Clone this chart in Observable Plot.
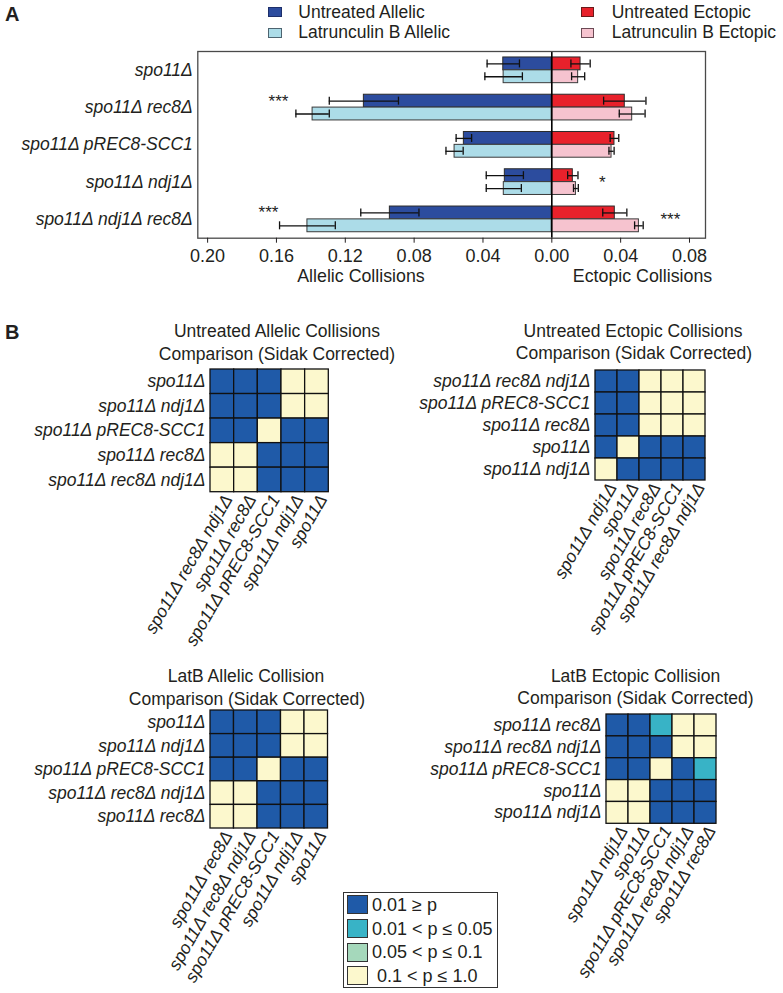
<!DOCTYPE html>
<html><head><meta charset="utf-8">
<script src="https://cdn.jsdelivr.net/npm/d3@7"></script>
<script src="https://cdn.jsdelivr.net/npm/@observablehq/plot@0.6"></script>
<style>
body{margin:0;background:#fff;}
#fig{position:relative;width:783px;height:993px;font-family:"Liberation Sans",Arial,sans-serif;color:#231f20;overflow:hidden;background:#fff}
.lbl{position:absolute;white-space:pre;line-height:1}
.plot{position:absolute}
.plot svg{overflow:visible}
.bar [aria-label="y-axis tick label"] text{font-style:italic}
.hm [aria-label="y-axis tick label"] text,.hm [aria-label="x-axis tick label"] text{font-style:italic}
.sw{position:absolute;box-sizing:border-box}
</style></head><body><div id="fig"></div><script>
// ---------- Panel A data ----------
const rows = ["spo11Δ", "spo11Δ rec8Δ", "spo11Δ pREC8-SCC1", "spo11Δ ndj1Δ", "spo11Δ ndj1Δ rec8Δ"];
const seriesNames = ["Untreated Allelic", "Latrunculin B Allelic", "Untreated Ectopic", "Latrunculin B Ectopic"];
const seriesColors = ["#2c4c9e", "#acdce8", "#e8212b", "#f6c3cf"];
const untreatedAllelic    = [0.0282, 0.1092, 0.0511, 0.0273, 0.0941];
const untreatedAllelicErr = [0.0094, 0.0201, 0.0045, 0.0108, 0.0169];
const latbAllelic         = [0.0280, 0.1390, 0.0565, 0.0279, 0.1420];
const latbAllelicErr      = [0.0109, 0.0097, 0.0050, 0.0102, 0.0162];
const untreatedEctopic    = [0.0167, 0.0424, 0.0364, 0.0122, 0.0366];
const untreatedEctopicErr = [0.0056, 0.0123, 0.0025, 0.0030, 0.0070];
const latbEctopic         = [0.0153, 0.0467, 0.0347, 0.0140, 0.0506];
const latbEctopicErr      = [0.0038, 0.0075, 0.0015, 0.0014, 0.0025];
const xTicks = [-0.20, -0.16, -0.12, -0.08, -0.04, 0, 0.04, 0.08];
const xDomain = [-0.2057, 0.0893];
const starRows = ["spo11Δ rec8Δ", "spo11Δ ndj1Δ rec8Δ", "spo11Δ ndj1Δ", "spo11Δ ndj1Δ rec8Δ"];
const starX    = [-0.1588, -0.1646, 0.0293, 0.0689];
const starText = ["***", "***", "*", "***"];
const starPos  = ["top", "top", "mid", "mid"];

// ---------- Panel B data ----------
const sigCodes  = ["A", "B", "C", "D"];
const sigLabels = ["0.01 ≥ p", "0.01 < p ≤ 0.05", "0.05 < p ≤ 0.1", " 0.1 < p ≤ 1.0"];
const sigColors = ["#1f5aa8", "#38b3c6", "#a5d8bb", "#fcf8cd"];

const hm1Title = ["Untreated Allelic Collisions", "Comparison (Sidak Corrected)"];
const hm1Rows = ["spo11Δ", "spo11Δ ndj1Δ", "spo11Δ pREC8-SCC1", "spo11Δ rec8Δ", "spo11Δ rec8Δ ndj1Δ"];
const hm1Cols = ["spo11Δ rec8Δ ndj1Δ", "spo11Δ rec8Δ", "spo11Δ pREC8-SCC1", "spo11Δ ndj1Δ", "spo11Δ"];
const hm1Sig = [["A","A","A","D","D"],["A","A","A","D","D"],["A","A","D","A","A"],["D","D","A","A","A"],["D","D","A","A","A"]];

const hm2Title = ["Untreated Ectopic Collisions", "Comparison (Sidak Corrected)"];
const hm2Rows = ["spo11Δ rec8Δ ndj1Δ", "spo11Δ pREC8-SCC1", "spo11Δ rec8Δ", "spo11Δ", "spo11Δ ndj1Δ"];
const hm2Cols = ["spo11Δ ndj1Δ", "spo11Δ", "spo11Δ rec8Δ", "spo11Δ pREC8-SCC1", "spo11Δ rec8Δ ndj1Δ"];
const hm2Sig = [["A","A","D","D","D"],["A","A","D","D","D"],["A","A","D","D","D"],["A","D","A","A","A"],["D","A","A","A","A"]];

const hm3Title = ["LatB Allelic Collision", "Comparison (Sidak Corrected)"];
const hm3Rows = ["spo11Δ", "spo11Δ ndj1Δ", "spo11Δ pREC8-SCC1", "spo11Δ rec8Δ ndj1Δ", "spo11Δ rec8Δ"];
const hm3Cols = ["spo11Δ rec8Δ", "spo11Δ rec8Δ ndj1Δ", "spo11Δ pREC8-SCC1", "spo11Δ ndj1Δ", "spo11Δ"];
const hm3Sig = [["A","A","A","D","D"],["A","A","A","D","D"],["A","A","D","A","A"],["D","D","A","A","A"],["D","D","A","A","A"]];

const hm4Title = ["LatB Ectopic Collision", "Comparison (Sidak Corrected)"];
const hm4Rows = ["spo11Δ rec8Δ", "spo11Δ rec8Δ ndj1Δ", "spo11Δ pREC8-SCC1", "spo11Δ", "spo11Δ ndj1Δ"];
const hm4Cols = ["spo11Δ ndj1Δ", "spo11Δ", "spo11Δ pREC8-SCC1", "spo11Δ rec8Δ ndj1Δ", "spo11Δ rec8Δ"];
const hm4Sig = [["A","A","B","D","D"],["A","A","A","D","D"],["A","A","D","A","B"],["D","D","A","A","A"],["D","D","A","A","A"]];

// ---------- helpers ----------
const fig = document.getElementById("fig");
const FONT = "'Liberation Sans', Arial, sans-serif";
function label(text, x, y, o = {}) {
  const d = document.createElement("div");
  d.className = "lbl";
  d.textContent = text;
  d.style.left = x + "px";
  d.style.top = y + "px";
  d.style.fontSize = (o.size || 17.5) + "px";
  if (o.weight) d.style.fontWeight = o.weight;
  const tx = o.anchor === "start" ? "0" : "-50%";
  d.style.transform = `translate(${tx},-50%)`;
  fig.appendChild(d);
  return d;
}
function swatch(x, y, w, h, fill, stroke, bw) {
  const d = document.createElement("div");
  d.className = "sw";
  Object.assign(d.style, {left: x + "px", top: y + "px", width: w + "px", height: h + "px", background: fill, border: `${bw}px solid ${stroke}`});
  fig.appendChild(d);
}
function place(svg, x, y, cls) {
  const w = document.createElement("div");
  w.className = "plot " + cls;
  w.style.left = x + "px";
  w.style.top = y + "px";
  w.appendChild(svg);
  fig.appendChild(w);
}

// ---------- Panel A ----------
const seriesArrays = [
  [untreatedAllelic, untreatedAllelicErr, -1, "top"],
  [latbAllelic, latbAllelicErr, -1, "bottom"],
  [untreatedEctopic, untreatedEctopicErr, 1, "top"],
  [latbEctopic, latbEctopicErr, 1, "bottom"]
];
const barData = rows.flatMap((r, i) => seriesArrays.map(([vals, errs, sgn, half], k) => ({
  row: r, series: seriesNames[k], v: sgn * vals[i], e: errs[i], half
})));
const topBars = barData.filter(d => d.half === "top");
const botBars = barData.filter(d => d.half === "bottom");
const stars = starRows.map((r, i) => ({row: r, x: starX[i], t: starText[i], pos: starPos[i]}));

const A = {width: 783, height: 300, mt: 51, mb: 62.3, ml: 197.3, mr: 78};
const pIn = 0.31, pOut = 0.16;
const step = (A.height - A.mt - A.mb) / (rows.length - pIn + 2 * pOut);
const bw = step * (1 - pIn), H = bw / 2, cap = 4;

const barPlot = Plot.plot({
  width: A.width, height: A.height,
  marginTop: A.mt, marginBottom: A.mb, marginLeft: A.ml, marginRight: A.mr,
  style: {fontFamily: FONT, fontSize: "17px", color: "#231f20", background: "transparent"},
  x: {domain: xDomain},
  y: {domain: rows, paddingInner: pIn, paddingOuter: pOut, round: false},
  color: {domain: seriesNames, range: seriesColors},
  marks: [
    Plot.barX(topBars, {x1: 0, x2: "v", y: "row", fill: "series", stroke: "#2b2b2b", strokeWidth: 1, insetBottom: H}),
    Plot.barX(botBars, {x1: 0, x2: "v", y: "row", fill: "series", stroke: "#3a3a3a", strokeWidth: 1, insetTop: H}),
    Plot.ruleY(topBars, {x1: d => d.v - d.e, x2: d => d.v + d.e, y: "row", dy: -H / 2, stroke: "#111", strokeWidth: 1.3}),
    Plot.ruleY(botBars, {x1: d => d.v - d.e, x2: d => d.v + d.e, y: "row", dy: H / 2, stroke: "#111", strokeWidth: 1.3}),
    Plot.tickX(topBars, {x: d => d.v - d.e, y: "row", insetTop: H / 2 - cap, insetBottom: bw - H / 2 - cap, stroke: "#111", strokeWidth: 1.3}),
    Plot.tickX(topBars, {x: d => d.v + d.e, y: "row", insetTop: H / 2 - cap, insetBottom: bw - H / 2 - cap, stroke: "#111", strokeWidth: 1.3}),
    Plot.tickX(botBars, {x: d => d.v - d.e, y: "row", insetTop: 1.5 * H - cap, insetBottom: H / 2 - cap, stroke: "#111", strokeWidth: 1.3}),
    Plot.tickX(botBars, {x: d => d.v + d.e, y: "row", insetTop: 1.5 * H - cap, insetBottom: H / 2 - cap, stroke: "#111", strokeWidth: 1.3}),
    Plot.ruleX([0], {stroke: "#000", strokeWidth: 1.6}),
    Plot.frame({stroke: "#4a4a4a", strokeWidth: 1.3}),
    Plot.text(stars.filter(d => d.pos === "top"), {x: "x", y: "row", text: "t", dy: -H / 2, fontSize: 17, fill: "#222"}),
    Plot.text(stars.filter(d => d.pos === "mid"), {x: "x", y: "row", text: "t", fontSize: 17, fill: "#222"}),
    Plot.axisX({ticks: xTicks, tickFormat: d => Math.abs(d).toFixed(2), tickSize: 5, tickPadding: 6, fontSize: 18, label: null}),
    Plot.axisY({tickSize: 0, tickPadding: 5, fontSize: 17.5, fontStyle: "italic", label: null})
  ]
});
place(barPlot, 0, 0, "bar");

label("A", 5, 14, {anchor: "start", size: 20, weight: "bold"});
// legend A
const legA = [[268.3, 7.3, 298.3, 12.7, 0, "#1d2f6a"], [268.3, 28.3, 298.3, 33.3, 1, "#4d6470"], [581, 7.3, 611.7, 12.7, 2, "#6a1a1a"], [581, 28.3, 611.7, 33.3, 3, "#6b4a55"]];
for (const [sx, sy, tx, ty, k, st] of legA) {
  swatch(sx, sy, 13.4, 9.6, seriesColors[k], st, 1.2);
  label(seriesNames[k], tx, ty, {anchor: "start", size: 17.5});
}
label("Allelic Collisions", 361, 277, {size: 17.8});
label("Ectopic Collisions", 642.5, 277, {size: 17.8});

// ---------- Panel B ----------
label("B", 5, 332, {anchor: "start", size: 20, weight: "bold"});

function heatmap(rowsH, colsH, sig, ml, mt, gw, gh) {
  const data = rowsH.flatMap((r, i) => colsH.map((c, j) => ({r, c, s: sig[i][j]})));
  const W = 340, HH = 300;
  return Plot.plot({
    width: W, height: HH,
    marginLeft: ml, marginTop: mt, marginRight: W - ml - gw, marginBottom: HH - mt - gh,
    style: {fontFamily: FONT, fontSize: "17px", color: "#231f20", background: "transparent"},
    x: {domain: colsH, padding: 0, round: false},
    y: {domain: rowsH, padding: 0, round: false},
    color: {domain: sigCodes, range: sigColors},
    marks: [
      Plot.cell(data, {x: "c", y: "r", fill: "s", stroke: "#111", strokeWidth: 1.3}),
      Plot.axisY({tickSize: 0, tickPadding: 5, fontSize: 17.5, fontStyle: "italic", label: null}),
      Plot.axisX({tickSize: 0, tickPadding: 4, tickRotate: -60, fontSize: 17.5, fontStyle: "italic", label: null, dx: 6})
    ]
  });
}
place(heatmap(hm1Rows, hm1Cols, hm1Sig, 210, 9, 118.3, 122.7), 0, 360, "hm");
place(heatmap(hm2Rows, hm2Cols, hm2Sig, 205, 10, 110, 110), 390, 360, "hm");
place(heatmap(hm3Rows, hm3Cols, hm3Sig, 210, 10, 117.5, 118), 0, 700, "hm");
place(heatmap(hm4Rows, hm4Cols, hm4Sig, 216, 14, 110, 109.3), 390, 700, "hm");

label(hm1Title[0], 277, 332); label(hm1Title[1], 277, 355);
label(hm2Title[0], 633, 332); label(hm2Title[1], 634, 354);
label(hm3Title[0], 246, 677); label(hm3Title[1], 247, 700);
label(hm4Title[0], 635.5, 677); label(hm4Title[1], 635.5, 699);

// legend B
const box = document.createElement("div");
Object.assign(box.style, {position: "absolute", left: "342.5px", top: "891.7px", width: "155px", height: "96.6px", border: "1.5px solid #333", boxSizing: "border-box", background: "#fff"});
fig.appendChild(box);
const legY = [895, 919, 942.5, 966];
sigCodes.forEach((c, k) => {
  swatch(346.5, legY[k], 21, 19.3, sigColors[k], "#333", 1.2);
  label(sigLabels[k], 372, legY[k] + 9.8, {anchor: "start", size: 18});
});
</script></body></html>
